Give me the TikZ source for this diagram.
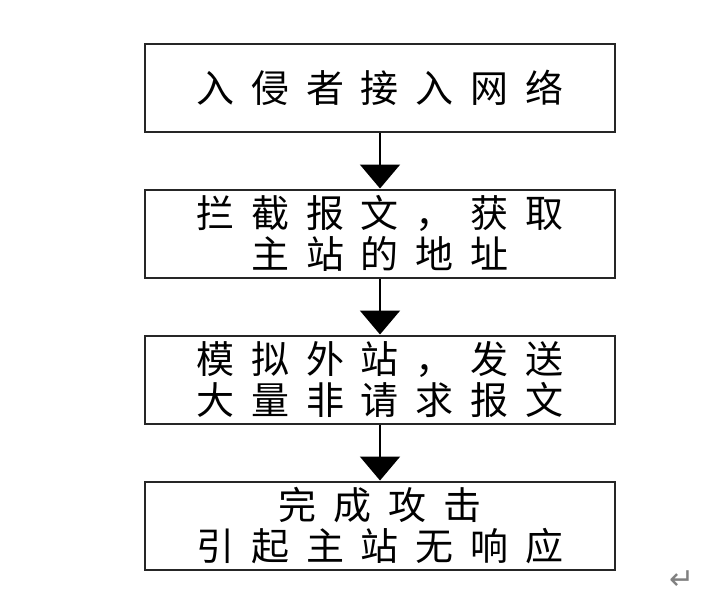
\documentclass[tikz,border=0pt]{standalone}
\usepackage{fontspec}
\newfontfamily\cjk[LetterSpace=44]{Noto Sans CJK SC}
\newfontfamily\symfont{DejaVu Sans}
\usetikzlibrary{positioning,arrows.meta}
\begin{document}
\begin{tikzpicture}[
	step box/.style={ draw=black!85, line width=1pt, minimum width=235pt, minimum height=44pt, inner sep=0pt, align=center, font=\cjk\fontsize{19}{20.5}\selectfont },
	flow/.style={ line width=1pt, -{Triangle[width=20pt,length=12pt]} },
	node distance=28pt
]

\useasboundingbox (0,0) rectangle (352.5pt,-302.5pt);

\node[step box] at (190pt,-43.75pt) (intrude) {入侵者接入网络};
\node[step box, below=of intrude] (capture) {拦截报文，获取\\主站的地址};
\node[step box, below=of capture] (flood) {模拟外站，发送\\大量非请求报文};
\node[step box, below=of flood] (finish) {完成攻击\\引起主站无响应};

\draw[flow] (intrude) to (capture);
\draw[flow] (capture) to (flood);
\draw[flow] (flood) to (finish);

\node[text=black!50, font=\symfont\fontsize{15}{15}\selectfont] at (341pt,-290pt) (ret) {↵};

\end{tikzpicture}
\end{document}
